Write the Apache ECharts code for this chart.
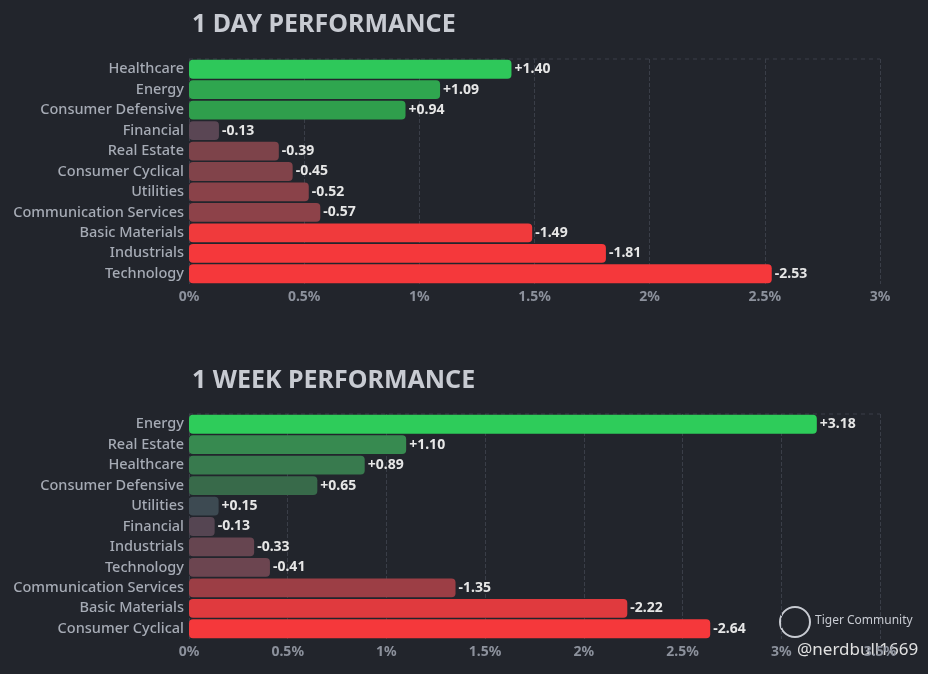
<!DOCTYPE html>
<html><head><meta charset="utf-8">
<script src="https://cdn.jsdelivr.net/npm/echarts@6/dist/echarts.min.js"></script>
<style>html,body{margin:0;background:#22252c}#c{width:928px;height:674px}</style>
</head><body><div id="c"></div>
<script>
const dayCats=["Healthcare","Energy","Consumer Defensive","Financial","Real Estate","Consumer Cyclical","Utilities","Communication Services","Basic Materials","Industrials","Technology"];
const dayVals=[1.40,1.09,0.94,-0.13,-0.39,-0.45,-0.52,-0.57,-1.49,-1.81,-2.53];
const dayColors=["#2ec85a","#2fa64f","#2f9e4c","#5a4654","#7d434a","#81434a","#8a4249","#8d4249","#f03a3c","#f5383b","#f5383b"];
const weekCats=["Energy","Real Estate","Healthcare","Consumer Defensive","Utilities","Financial","Industrials","Technology","Communication Services","Basic Materials","Consumer Cyclical"];
const weekVals=[3.18,1.10,0.89,0.65,0.15,-0.13,-0.33,-0.41,-1.35,-2.22,-2.64];
const weekColors=["#2ecc5a","#378a50","#387a4e","#386a4a","#3d4a52","#554552","#664550","#6c4550","#9c3e45","#e03a3e","#f5383b"];
const font="'Noto Sans', sans-serif";
function mk(i,cats,vals,cols,max,top){
  return {
    grid:{left:189,right:48,top:top,height:225},
    x:{type:'value',gridIndex:i,min:0,max:max,interval:0.5,
      axisLabel:{color:'#8c919c',fontSize:14,fontFamily:font,fontWeight:'bold',margin:6,formatter:v=>v+'%'},
      axisLine:{show:false},axisTick:{show:false},
      splitLine:{show:true,lineStyle:{color:'#3a3e48',type:'dashed'}}},
    y:{type:'category',gridIndex:i,data:cats,inverse:true,
      axisLabel:{color:'#a6abb5',fontSize:14.5,fontFamily:font,fontWeight:500,margin:5},
      axisLine:{show:false},axisTick:{show:false},splitLine:{show:false}},
    s:{type:'bar',xAxisIndex:i,yAxisIndex:i,barCategoryGap:'8%',
      data:vals.map((v,k)=>({value:Math.abs(v),itemStyle:{color:cols[k],borderRadius:4}})),
      label:{show:true,position:'right',distance:3,color:'#e6e6e6',fontWeight:'bold',fontSize:14,fontFamily:font,
        formatter:p=>(vals[p.dataIndex]>0?'+':'')+vals[p.dataIndex].toFixed(2)}}
  };
}
const a=mk(0,dayCats,dayVals,dayColors,3,59), b=mk(1,weekCats,weekVals,weekColors,3.5,414);
const ch=echarts.init(document.getElementById('c'));
ch.setOption({
  backgroundColor:'#22252c',animation:false,
  title:[{text:'1 DAY PERFORMANCE',left:187,top:7,textStyle:{color:'#c8cbd2',fontSize:25,fontWeight:'bold',fontFamily:font}},
         {text:'1 WEEK PERFORMANCE',left:187,top:363,textStyle:{color:'#c8cbd2',fontSize:25,fontWeight:'bold',fontFamily:font}}],
  grid:[a.grid,b.grid],xAxis:[a.x,b.x],yAxis:[a.y,b.y],series:[a.s,b.s],
  graphic:[
    {type:'line',shape:{x1:189,y1:59,x2:880,y2:59},style:{stroke:'#3a3e48',lineDash:[4,4]}},
    {type:'line',shape:{x1:189,y1:414,x2:880,y2:414},style:{stroke:'#3a3e48',lineDash:[4,4]}},
    {type:'circle',shape:{cx:795,cy:622,r:15},style:{fill:'none',stroke:'#c8cbd2',lineWidth:2}},
    {type:'text',left:815,top:615,style:{text:'Tiger Community',fill:'#c8cbd2',fontSize:12,fontFamily:font}},
    {type:'text',left:797,top:642,style:{text:'@nerdbull1669',fill:'#e0e0e0',fontSize:17,fontFamily:font}}
  ]
});
</script></body></html>
